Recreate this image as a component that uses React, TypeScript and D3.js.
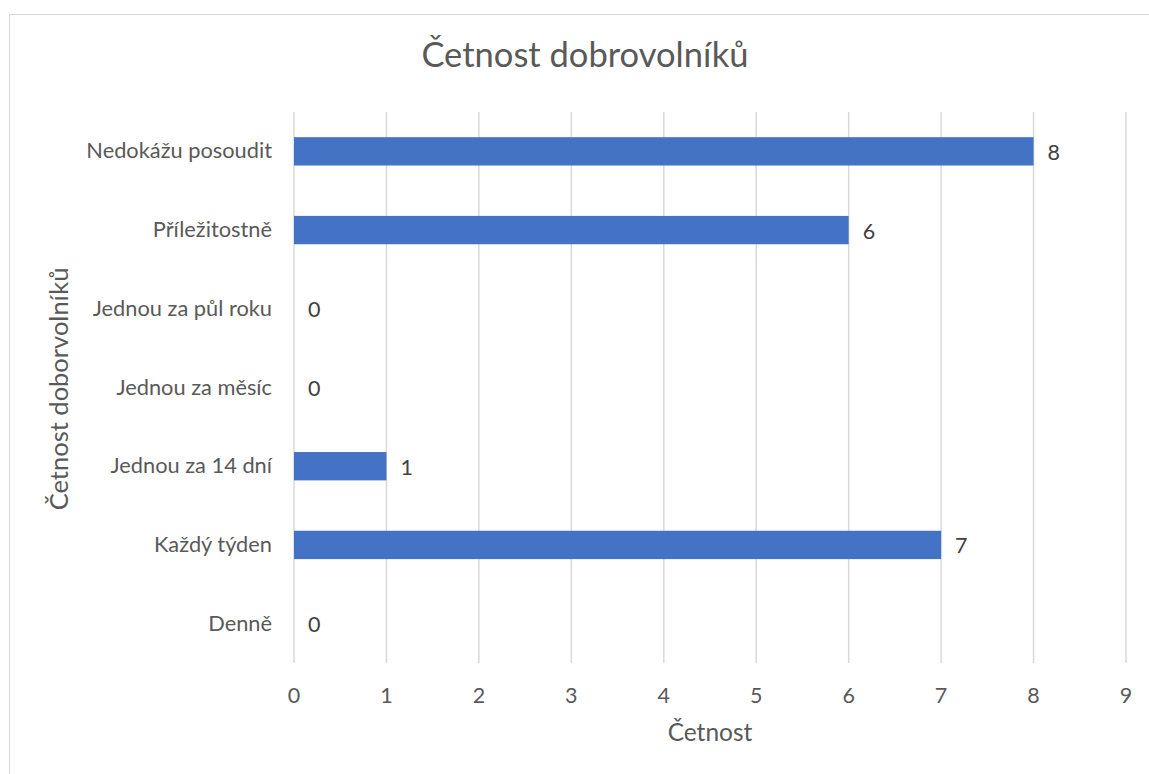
import React from "react";
import * as d3 from "d3";

const categories = [
  "Nedokážu posoudit",
  "Příležitostně",
  "Jednou za půl roku",
  "Jednou za měsíc",
  "Jednou za 14 dní",
  "Každý týden",
  "Denně",
];
const values = [8, 6, 0, 0, 1, 7, 0];
const xTicks = [0, 1, 2, 3, 4, 5, 6, 7, 8, 9];
const title = "Četnost dobrovolníků";
const xTitle = "Četnost";
const yTitle = "Četnost doborvolníků";

const W = 1149;
const H = 774;
const FONT = "Lato, 'Open Sans', sans-serif";
const TEXT = "#595959";

export default function App() {
  const x = d3.scaleLinear().domain([0, 9]).range([294, 1126]);
  const y = d3
    .scaleBand<string>()
    .domain(categories)
    .range([112, 663])
    .paddingInner(0.64)
    .paddingOuter(0.32);

  return (
    <svg
      width={W}
      height={H}
      style={{ position: "absolute", left: 0, top: 0, background: "#fff" }}
      fontFamily={FONT}
    >
      <rect x={9.5} y={14.5} width={W + 20} height={H + 20} fill="#fff" stroke="#d9d9d9" strokeWidth={1} />
      <text x={585} y={67} textAnchor="middle" fontSize={34.5} fill={TEXT}>
        {title}
      </text>
      {xTicks.map((t) => (
        <g key={t}>
          <line x1={x(t)} x2={x(t)} y1={112} y2={663} stroke="#d9d9d9" strokeWidth={1.5} />
          <text x={x(t)} y={703} textAnchor="middle" fontSize={21.5} fill={TEXT}>
            {t}
          </text>
        </g>
      ))}
      {categories.map((c, i) => {
        const yc = (y(c) as number) + y.bandwidth() / 2;
        return (
          <g key={c}>
            <text x={272} y={yc + 7} textAnchor="end" fontSize={21.8} fill={TEXT}>
              {c}
            </text>
            {values[i] > 0 && (
              <rect
                x={x(0)}
                y={y(c)}
                width={x(values[i]) - x(0)}
                height={y.bandwidth()}
                fill="#4472C4"
              />
            )}
            <text x={x(values[i]) + 14} y={yc + 8.5} textAnchor="start" fontSize={21.5} fill="#404040">
              {values[i]}
            </text>
          </g>
        );
      })}
      <text x={710} y={741} textAnchor="middle" fontSize={24.5} fill={TEXT}>
        {xTitle}
      </text>
      <text
        transform={`translate(68, 389) rotate(-90)`}
        textAnchor="middle"
        fontSize={25.5}
        fill={TEXT}
      >
        {yTitle}
      </text>
    </svg>
  );
}
